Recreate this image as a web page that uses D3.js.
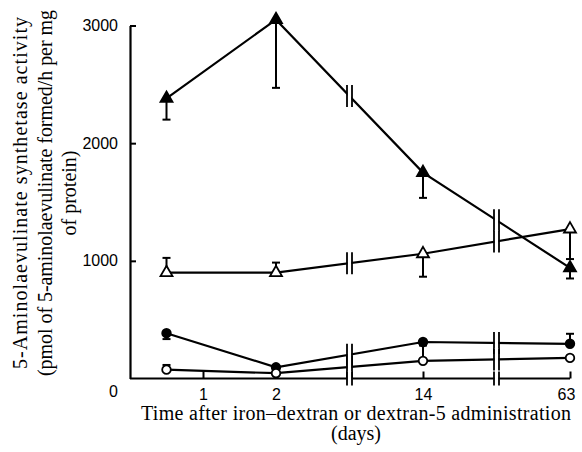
<!doctype html>
<html lang="en">
<head>
  <meta charset="UTF-8">
  <title>ALA synthetase activity</title>
  <style>
    body { margin: 0; background: #fff; }
    #app { width: 582px; height: 452px; }
    .tick-label { font-family: "Liberation Sans", Arial, sans-serif; font-size: 16px; fill: #000; }
    .title { font-family: "Liberation Serif", "Times New Roman", serif; font-size: 20px; fill: #000; }
  </style>
</head>
<body>
<div id="app"></div>
<script src="https://cdn.jsdelivr.net/npm/d3@7"></script>
<script>
  // days on the x axis (broken axis: 2 -> 14 -> 63)
  var days = [0.5, 2, 14, 63];
  var xTicks = [1, 2, 14, 63];
  var yTicks = [0, 1000, 2000, 3000];

  // iron-dextran / dextran-5 groups, mean values and error (one-sided)
  var filledTriangle = [2380, 3050, 1750, 940];
  var filledTriangleErr = [-180, -580, -215, -90];
  var openTriangle = [900, 900, 1060, 1270];
  var openTriangleErr = [125, 85, -195, -255];
  var filledCircle = [385, 95, 310, 295];
  var filledCircleErr = [-50, -20, 0, 85];
  var openCircle = [75, 45, 150, 175];
  var openCircleErr = [40, 0, 130, 0];

  var series = [
    { values: filledTriangle, err: filledTriangleErr, shape: 'triangle', filled: true },
    { values: openTriangle, err: openTriangleErr, shape: 'triangle', filled: false },
    { values: filledCircle, err: filledCircleErr, shape: 'circle', filled: true },
    { values: openCircle, err: openCircleErr, shape: 'circle', filled: false }
  ];

  var width = 582;
  var height = 452;

  var x = d3.scaleLinear()
    .domain([0, 1, 2, 14, 63])
    .range([130, 203, 276, 423, 570]);
  var y = d3.scaleLinear()
    .domain([0, 3000])
    .range([378.5, 25.5]);

  // break positions sit half way between 2-14 and 14-63
  var breaks = [(x(2) + x(14)) / 2, (x(14) + x(63)) / 2];

  var svg = d3.select('#app')
    .append('svg')
    .attr('width', width)
    .attr('height', height);

  // axes
  var xAxis = svg.append('g')
    .attr('transform', 'translate(0,' + y(0) + ')')
    .call(d3.axisBottom(x).tickValues(xTicks).tickSize(-7).tickSizeOuter(0).tickFormat(d3.format('d')));
  xAxis.select('.domain').attr('d', 'M' + x(0) + ',0H' + x(63));
  xAxis.selectAll('line').attr('stroke-width', 2);
  xAxis.select('.domain').attr('stroke-width', 2.2);
  xAxis.selectAll('text').attr('class', 'tick-label').attr('dy', null).attr('y', 21.5);
  xAxis.selectAll('.tick').filter(d => d === 63).select('text').attr('dx', -4);

  var yAxis = svg.append('g')
    .attr('transform', 'translate(' + x(0) + ',0)')
    .call(d3.axisLeft(y).tickValues(yTicks).tickSize(-6).tickSizeOuter(0).tickFormat(d3.format('d')));
  yAxis.select('.domain').attr('stroke-width', 2.2);
  yAxis.selectAll('line').attr('stroke-width', 2);
  yAxis.selectAll('text').attr('class', 'tick-label').attr('x', -12);
  yAxis.selectAll('.tick').filter(d => d === 0).select('text').attr('dy', '1.1em').attr('x', -12);
  yAxis.selectAll('.tick').filter(d => d === 0).select('line').remove();

  var line = d3.line()
    .x((d, i) => x(days[i]))
    .y(d => y(d));

  series.forEach(function(s) {
    var g = svg.append('g');

    g.append('path')
      .attr('d', line(s.values))
      .attr('fill', 'none')
      .attr('stroke', '#000')
      .attr('stroke-width', 2.2);

    // error bars
    g.selectAll('g.err')
      .data(s.values.map((v, i) => ({ v: v, e: s.err[i], d: days[i] })).filter(d => d.e !== 0))
      .enter()
      .append('g')
      .each(function(d) {
        var sel = d3.select(this);
        sel.append('line')
          .attr('x1', x(d.d)).attr('x2', x(d.d))
          .attr('y1', y(d.v)).attr('y2', y(d.v + d.e))
          .attr('stroke', '#000').attr('stroke-width', 2);
        sel.append('line')
          .attr('x1', x(d.d) - 4).attr('x2', x(d.d) + 4)
          .attr('y1', y(d.v + d.e)).attr('y2', y(d.v + d.e))
          .attr('stroke', '#000').attr('stroke-width', 2);
      });

    // markers
    var sym = s.shape === 'triangle' ? d3.symbolTriangle : d3.symbolCircle;
    var size = s.shape === 'triangle' ? 62 : 58;
    g.selectAll('path.marker')
      .data(s.values)
      .enter()
      .append('path')
      .attr('class', 'marker')
      .attr('d', d3.symbol().type(sym).size(size))
      .attr('transform', (d, i) => 'translate(' + x(days[i]) + ',' + y(d) + ')')
      .attr('fill', s.filled ? '#000' : '#fff')
      .attr('stroke', '#000')
      .attr('stroke-width', 1.8);
  });

  // axis break marks on every line and the x axis
  function drawBreak(bx, by, h) {
    svg.append('rect')
      .attr('x', bx - 2).attr('y', by - h / 2)
      .attr('width', 4).attr('height', h)
      .attr('fill', '#fff');
    [-2.5, 2.5].forEach(function(dx) {
      svg.append('line')
        .attr('x1', bx + dx).attr('x2', bx + dx)
        .attr('y1', by - h / 2).attr('y2', by + h / 2)
        .attr('stroke', '#000').attr('stroke-width', 1.8);
    });
  }

  breaks.forEach(function(bx, k) {
    var i0 = k + 1;
    series.forEach(function(s) {
      var t = (bx - x(days[i0])) / (x(days[i0 + 1]) - x(days[i0]));
      var v = s.values[i0] + t * (s.values[i0 + 1] - s.values[i0]);
      drawBreak(bx, y(v), 22);
    });
    drawBreak(bx, y(0), 14);
  });

  // titles
  var yTitle = svg.append('text')
    .attr('class', 'title')
    .attr('text-anchor', 'middle')
    .attr('transform', 'translate(27,193) rotate(-90)');
  [['5-Aminolaevulinate synthetase activity', 352],
   ['(pmol of 5-aminolaevulinate formed/h per mg', 366],
   ['of protein)', null]].forEach(function(t, i) {
    var ts = yTitle.append('tspan').attr('x', 0).attr('dy', i === 0 ? 0 : 24.5).text(t[0]);
    if (t[1]) ts.attr('textLength', t[1]).attr('lengthAdjust', 'spacing');
  });

  svg.append('text')
    .attr('class', 'title')
    .attr('text-anchor', 'middle')
    .attr('x', 356).attr('y', 420)
    .attr('textLength', 430).attr('lengthAdjust', 'spacing')
    .text('Time after iron\u2013dextran or dextran-5 administration');
  svg.append('text')
    .attr('class', 'title')
    .attr('text-anchor', 'middle')
    .attr('x', 356).attr('y', 440)
    .text('(days)');
</script>
</body>
</html>
